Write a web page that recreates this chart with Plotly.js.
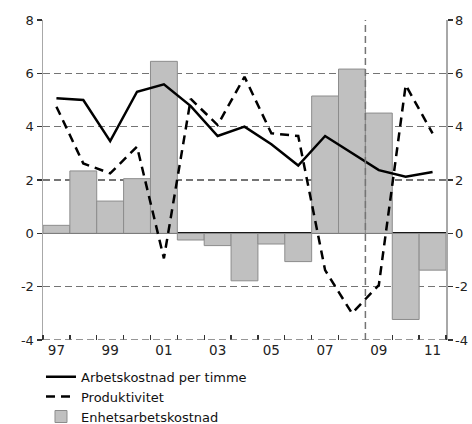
<!DOCTYPE html>
<html>
<head>
<meta charset="utf-8">
<script src="https://cdn.plot.ly/plotly-3.0.1.min.js"></script>
<style>html,body{margin:0;padding:0;background:#fff;}#chart{width:472px;height:424px;}</style>
</head>
<body>
<div id="chart"></div>
<script>
var years = [1997,1998,1999,2000,2001,2002,2003,2004,2005,2006,2007,2008,2009,2010,2011];
var arbetskostnad = [5.07,5.0,3.46,5.31,5.59,4.77,3.65,4.0,3.34,2.54,3.65,3.0,2.37,2.12,2.3];
var produktivitet = [4.75,2.62,2.25,3.25,-0.94,5.04,4.06,5.87,3.75,3.65,-1.38,-3.0,-1.94,5.56,3.75];
var enhetsarbetskostnad = [0.3,2.34,1.21,2.05,6.45,-0.25,-0.46,-1.78,-0.4,-1.06,5.15,6.16,4.51,-3.23,-1.38];
var tickYears = [1997,1999,2001,2003,2005,2007,2009,2011];
var tickLabels = ['97','99','01','03','05','07','09','11'];
var yTickVals = [-4,-2,0,2,4,6,8];
var yTickLabels = ['-4','-2','0','2','4','6','8'];
var names = ['Arbetskostnad per timme','Produktivitet','Enhetsarbetskostnad'];

var boundaries = years.map(function(y){return y-0.5;}).concat([years[years.length-1]+0.5]);

var traces = [
  {type:'bar', x:years, y:enhetsarbetskostnad, name:names[2], width:1,
   marker:{color:'#c0c0c0', line:{color:'#8c8c8c', width:1}}, legendrank:3},
  {type:'scatter', mode:'lines', x:years, y:arbetskostnad, name:names[0],
   line:{color:'#000', width:2.5}, legendrank:1},
  {type:'scatter', mode:'lines', x:years, y:produktivitet, name:names[1],
   line:{color:'#000', width:2.5, dash:'9px,6px'}, legendrank:2},
  {type:'scatter', mode:'lines', x:years, y:arbetskostnad, yaxis:'y2', showlegend:false,
   hoverinfo:'skip', line:{color:'rgba(0,0,0,0)', width:0}}
];

var layout = {
  width:472, height:424,
  margin:{l:43, r:26, t:20, b:84, autoexpand:false},
  paper_bgcolor:'#fff', plot_bgcolor:'#fff',
  font:{family:'DejaVu Sans, Verdana, sans-serif', size:13, color:'#222'},
  showlegend:true,
  legend:{orientation:'v', x:-0.005, xanchor:'left', y:-0.068, yanchor:'top',
          font:{size:13, color:'#111'}, tracegroupgap:0, itemwidth:30,
          bgcolor:'rgba(0,0,0,0)', traceorder:'normal'},
  bargap:0,
  xaxis:{range:[1996.5,2011.5], tickmode:'array', tickvals:tickYears, ticktext:tickLabels,
         ticks:'', showgrid:false, zeroline:false, showline:false,
         tickfont:{size:13.5, color:'#222'},
         minor:{tickmode:'array', tickvals:boundaries, ticks:'inside', ticklen:5, tickwidth:1.3, tickcolor:'#333', showgrid:false}},
  yaxis:{range:[-4,8], tickmode:'array', tickvals:yTickVals, ticktext:yTickLabels, showgrid:true, gridcolor:'#747474', griddash:'7px,4px', gridwidth:1.5,
         zeroline:true, zerolinecolor:'#000', zerolinewidth:2,
         showline:true, linecolor:'#a8a8a8', linewidth:1.5,
         ticks:'outside', ticklen:5, tickcolor:'#333', tickwidth:1.3, tickfont:{size:13, color:'#222'}},
  yaxis2:{range:[-4,8], tickmode:'array', tickvals:yTickVals, ticktext:yTickLabels, overlaying:'y', side:'right', showgrid:false, zeroline:false,
          showline:true, linecolor:'#a8a8a8', linewidth:1.5,
          ticks:'outside', ticklen:5, tickcolor:'#333', tickwidth:1.3, tickfont:{size:13, color:'#222'}},
  shapes:[
    {type:'line', xref:'x', yref:'paper', x0:2008.5, x1:2008.5, y0:0, y1:1,
     line:{color:'#747474', width:1.5, dash:'7px,4px'}, layer:'above'},
    {type:'line', xref:'paper', yref:'y', x0:0, x1:1, y0:-4, y1:-4,
     line:{color:'#747474', width:1.5, dash:'7px,4px'}, layer:'above'}
  ]
};

Plotly.newPlot('chart', traces, layout, {displayModeBar:false, staticPlot:true});
</script>
</body>
</html>
